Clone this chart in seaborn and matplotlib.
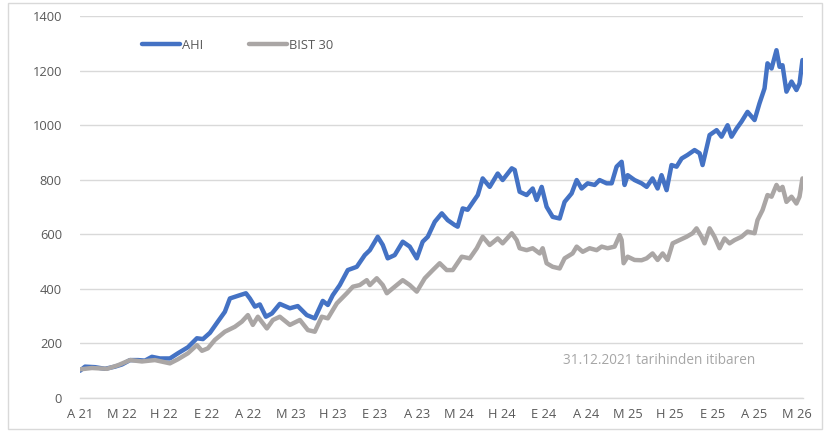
import pandas as pd
import matplotlib.pyplot as plt
import seaborn as sns
from matplotlib.patches import Rectangle

# Months since 31.12.2021 and index values (31.12.2021 = 100)
ahi_months = [0.00, 0.36, 1.07, 1.78, 2.49, 2.99, 3.56, 4.13, 4.62, 5.12, 5.69, 6.40, 6.97, 7.68,
              8.32, 8.75, 9.25, 9.81, 10.31, 10.67, 11.38, 11.81, 12.09, 12.45, 12.80, 13.23, 13.66,
              14.22, 14.94, 15.50, 16.14, 16.71, 17.28, 17.64, 17.99, 18.49, 19.06, 19.70, 20.27,
              20.63, 21.19, 21.55, 21.90, 22.40, 22.97, 23.47, 23.97, 24.39, 24.75, 25.25, 25.75,
              26.17, 26.67, 26.88, 27.24, 27.59, 28.31, 28.66, 29.16, 29.73, 30.08, 30.73, 30.94,
              31.29, 31.79, 32.22, 32.50, 32.86, 33.21, 33.64, 34.14, 34.49, 34.99, 35.35, 35.70,
              36.13, 36.63, 36.98, 37.48, 37.84, 38.19, 38.55, 38.76, 38.98, 39.47, 39.97, 40.33,
              40.75, 41.11, 41.39, 41.75, 42.10, 42.46, 42.82, 43.24, 43.74, 44.10, 44.31, 44.67,
              44.81, 45.31, 45.66, 46.09, 46.37, 46.73, 47.08, 47.51, 48.01, 48.36, 48.72, 48.93,
              49.22, 49.57, 49.79, 50.00, 50.28, 50.64, 50.99, 51.21, 51.42]
ahi_values = [100, 115, 113, 107, 115, 123, 139, 139, 137, 151, 145, 145, 164, 186,
              219, 216, 239, 280, 316, 365, 377, 384, 365, 335, 343, 298, 310,
              345, 329, 337, 304, 292, 356, 341, 377, 414, 469, 481, 524,
              542, 591, 561, 512, 524, 573, 555, 512, 573, 591, 646, 677,
              652, 634, 628, 695, 690, 744, 805, 774, 823, 799, 842, 836,
              756, 744, 768, 726, 774, 701, 664, 658, 719, 750, 799, 768,
              787, 781, 799, 787, 787, 848, 866, 781, 817, 799, 787, 774,
              805, 768, 817, 762, 854, 848, 878, 891, 909, 897, 854, 933,
              964, 982, 958, 1000, 958, 988, 1013, 1049, 1019, 1080, 1135, 1227,
              1208, 1275, 1214, 1220, 1123, 1160, 1129, 1153, 1239]

bist_months = [0.00, 0.85, 1.92, 2.70, 3.56, 4.41, 5.33, 6.40, 6.97, 7.68, 8.32, 8.68, 9.10,
               9.60, 10.31, 11.02, 11.52, 11.95, 12.30, 12.66, 13.30, 13.73, 14.22, 14.94, 15.65,
               16.22, 16.71, 17.21, 17.64, 18.28, 18.99, 19.42, 19.91, 20.41, 20.63, 21.12, 21.55,
               21.84, 22.26, 22.97, 23.47, 23.97, 24.54, 25.11, 25.60, 26.10, 26.53, 27.17, 27.74,
               28.24, 28.66, 29.16, 29.73, 30.08, 30.73, 31.08, 31.29, 31.79, 32.22, 32.72, 32.93,
               33.21, 33.64, 34.14, 34.49, 35.06, 35.35, 35.78, 36.27, 36.77, 37.13, 37.55, 38.05,
               38.41, 38.55, 38.69, 38.98, 39.47, 39.97, 40.33, 40.75, 41.11, 41.47, 41.82, 42.18,
               42.67, 43.17, 43.60, 43.88, 44.24, 44.45, 44.81, 45.16, 45.52, 45.87, 46.23, 46.59,
               47.08, 47.51, 48.01, 48.22, 48.58, 48.93, 49.22, 49.57, 49.79, 50.00, 50.28, 50.64,
               50.99, 51.21, 51.42]
bist_values = [105, 110, 107, 120, 139, 134, 139, 127, 142, 164, 194, 173, 182,
               213, 243, 261, 280, 304, 268, 298, 255, 286, 298, 268, 286,
               249, 243, 298, 292, 347, 384, 408, 414, 432, 414, 439, 414,
               384, 402, 432, 414, 390, 439, 469, 494, 469, 469, 518, 512,
               549, 591, 561, 585, 567, 604, 579, 549, 542, 549, 530, 549,
               494, 481, 475, 512, 530, 555, 536, 549, 542, 555, 549, 555,
               597, 579, 494, 518, 506, 505, 512, 530, 506, 530, 506, 567,
               579, 591, 604, 622, 591, 567, 622, 591, 549, 585, 567, 579,
               591, 610, 604, 652, 689, 744, 738, 781, 762, 774, 719, 738,
               713, 738, 805]

tick_months = list(range(0, 52, 3))
tick_labels = ['A 21', 'M 22', 'H 22', 'E 22', 'A 22', 'M 23', 'H 23', 'E 23', 'A 23',
               'M 24', 'H 24', 'E 24', 'A 24', 'M 25', 'H 25', 'E 25', 'A 25', 'M 26']

df = pd.concat([
    pd.DataFrame({'ay': ahi_months, 'deger': ahi_values, 'seri': 'AHI'}),
    pd.DataFrame({'ay': bist_months, 'deger': bist_values, 'seri': 'BIST 30'}),
])

sns.set_style('white')
plt.rcParams['font.family'] = ['Open Sans', 'DejaVu Sans']

fig = plt.figure(figsize=(8.29, 4.32), dpi=100)
ax = fig.add_axes([0.0965, 0.0787, 0.872, 0.884])

sns.lineplot(data=df, x='ay', y='deger', hue='seri', sort=False,
             palette={'AHI': '#4472C4', 'BIST 30': '#AAA6A5'},
             linewidth=3.2, ax=ax)

ax.set_xlim(0, 51.45)
ax.set_ylim(0, 1400)
ax.set_yticks(range(0, 1401, 200))
ax.set_xticks(tick_months)
ax.set_xticklabels(tick_labels)
ax.set_xlabel('')
ax.set_ylabel('')

ax.grid(axis='y', color='#D9D9D9', linewidth=1)
ax.set_axisbelow(True)
for side in ['top', 'right', 'left']:
    ax.spines[side].set_visible(False)
ax.spines['bottom'].set_color('#D9D9D9')
ax.spines['bottom'].set_linewidth(1)

ax.tick_params(axis='y', length=0, pad=13, labelsize=9.3, labelcolor='#595959')
ax.tick_params(axis='x', length=5, width=1, color='#D9D9D9', pad=2,
               labelsize=9.3, labelcolor='#595959')

leg = ax.legend(loc='center left', bbox_to_anchor=(0.07, 0.924), ncol=2,
                frameon=False, fontsize=9.3, handlelength=2.9, handletextpad=0.15,
                columnspacing=3.6)
for txt in leg.get_texts():
    txt.set_color('#595959')

ax.text(0.668, 0.097, '31.12.2021 tarihinden itibaren', transform=ax.transAxes,
        ha='left', va='center', fontsize=9.8, color='#A6A6A6')

fig.patches.append(Rectangle((8 / 829, 3 / 432), 814 / 829, 426 / 432,
                             transform=fig.transFigure, fill=False,
                             edgecolor='#D9D9D9', linewidth=1))

plt.savefig('out.png', dpi=100)
